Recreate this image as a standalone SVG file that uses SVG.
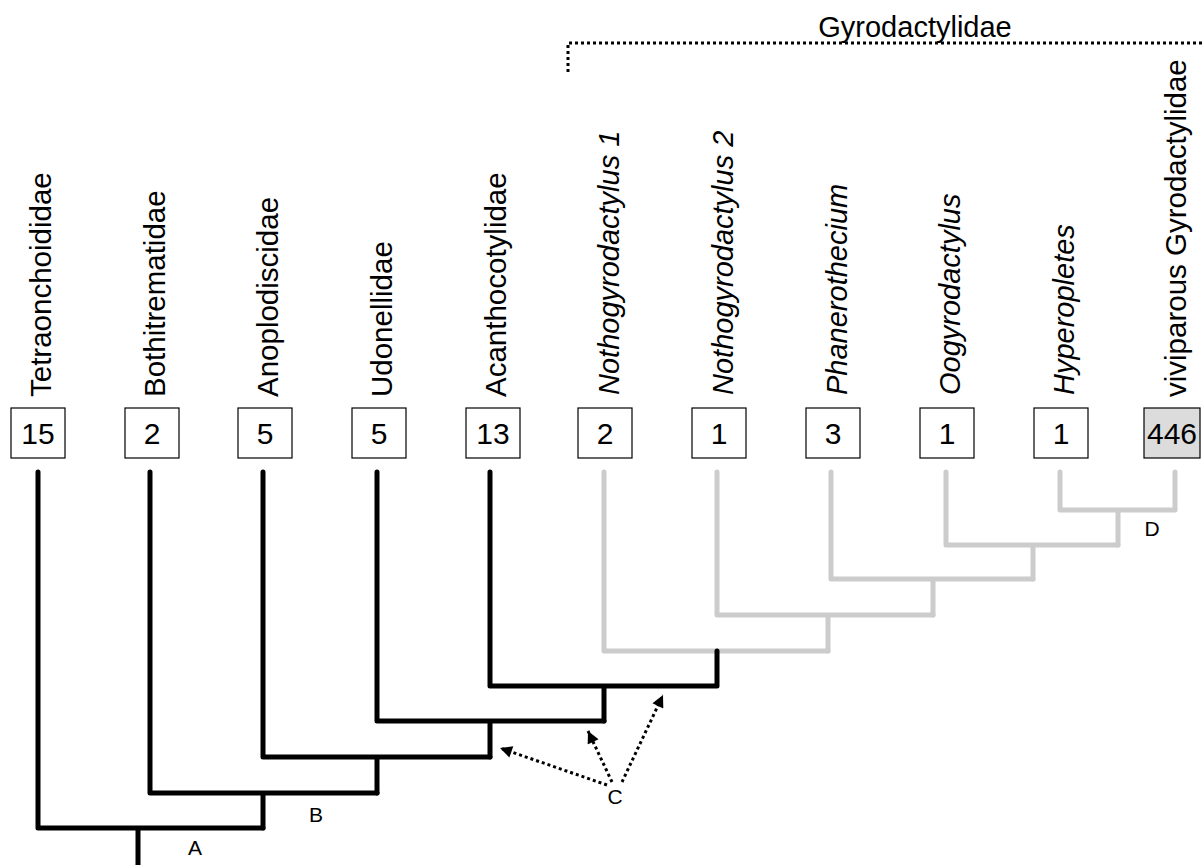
<svg xmlns="http://www.w3.org/2000/svg" width="1203" height="865" viewBox="0 0 1203 865">
<style>
text{font-family:"Liberation Sans",Arial,Helvetica,sans-serif;fill:#000}
.tip{font-size:29.5px}
.it{font-style:italic;font-size:29px}
.num{font-size:30px;text-anchor:middle}
.lab{font-size:21px;text-anchor:middle}
.box{fill:#fff;stroke:#000;stroke-width:1.2}
.box.g{fill:#dcdcdc}
.blk{fill:none;stroke:#000;stroke-width:5;stroke-linecap:round;stroke-linejoin:round}
.gry{fill:none;stroke:#cccccc;stroke-width:5;stroke-linecap:round;stroke-linejoin:round}
.dot{fill:none;stroke:#000;stroke-width:3;stroke-dasharray:3 3}
</style>
<defs>
<marker id="ah" viewBox="0 0 10 10" refX="10" refY="5" markerWidth="15" markerHeight="12" markerUnits="userSpaceOnUse" orient="auto">
<path d="M0,0 L10,5 L0,10 z" fill="#000"/>
</marker>
</defs>
<rect width="1203" height="865" fill="#fff"/>

<g id="gyro-bracket">
<text x="915" y="37" style="font-size:29px;text-anchor:middle">Gyrodactylidae</text>
<path class="dot" d="M568,72 V43 H1203"/>
</g>

<g id="n-tetraonchoididae"><text class="tip" transform="translate(51,397) rotate(-90)">Tetraonchoididae</text><rect class="box" x="11" y="408" width="54" height="50"/><text class="num" x="38" y="444">15</text></g>
<g id="n-bothritrematidae"><text class="tip" transform="translate(165,397) rotate(-90)">Bothitrematidae</text><rect class="box" x="125" y="408" width="54" height="50"/><text class="num" x="152" y="444">2</text></g>
<g id="n-anoplodiscidae"><text class="tip" transform="translate(278,397) rotate(-90)">Anoplodiscidae</text><rect class="box" x="238" y="408" width="54" height="50"/><text class="num" x="265" y="444">5</text></g>
<g id="n-udonellidae"><text class="tip" transform="translate(392,397) rotate(-90)">Udonellidae</text><rect class="box" x="352" y="408" width="54" height="50"/><text class="num" x="379" y="444">5</text></g>
<g id="n-acanthocotylidae"><text class="tip" transform="translate(506,397) rotate(-90)">Acanthocotylidae</text><rect class="box" x="466" y="408" width="54" height="50"/><text class="num" x="493" y="444">13</text></g>
<g id="n-notho1"><text class="tip it" transform="translate(619,395) rotate(-90)">Nothogyrodactylus 1</text><rect class="box" x="578" y="408" width="54" height="50"/><text class="num" x="605" y="444">2</text></g>
<g id="n-notho2"><text class="tip it" transform="translate(733,395) rotate(-90)">Nothogyrodactylus 2</text><rect class="box" x="692" y="408" width="54" height="50"/><text class="num" x="719" y="444">1</text></g>
<g id="n-phanerothecium"><text class="tip it" transform="translate(847,395) rotate(-90)">Phanerothecium</text><rect class="box" x="806" y="408" width="54" height="50"/><text class="num" x="833" y="444">3</text></g>
<g id="n-oogyrodactylus"><text class="tip it" transform="translate(960,395) rotate(-90)">Oogyrodactylus</text><rect class="box" x="920" y="408" width="54" height="50"/><text class="num" x="947" y="444">1</text></g>
<g id="n-hyperopletes"><text class="tip it" transform="translate(1074,395) rotate(-90)">Hyperopletes</text><rect class="box" x="1034" y="408" width="54" height="50"/><text class="num" x="1061" y="444">1</text></g>
<g id="n-viviparous"><text class="tip" transform="translate(1186,397) rotate(-90)">viviparous Gyrodactylidae</text><rect class="box g" x="1144" y="408" width="56" height="50"/><text class="num" x="1172" y="444">446</text></g>

<g id="connectors">
<path class="gry" d="M604,472 V651 H828"/>
<path class="gry" d="M717,472 V615 H933 M828,615 V651"/>
<path class="gry" d="M831,472 V579 H1033 M933,579 V615"/>
<path class="gry" d="M946,472 V545 H1118 M1033,545 V579"/>
<path class="gry" d="M1060,472 V510 H1175 V472 M1118,510 V545"/>
<path class="blk" d="M38,472 V828 H263 M138,828 V865"/>
<path class="blk" d="M150,472 V793 H377 M263,793 V828"/>
<path class="blk" d="M263,472 V757 H490 M377,757 V793"/>
<path class="blk" d="M377,472 V721 H604 M490,721 V757"/>
<path class="blk" d="M490,472 V686 H717 V651 M604,686 V721"/>
<path class="dot" d="M607,785 L500,748" marker-end="url(#ah)"/>
<path class="dot" d="M612,782 L588,731" marker-end="url(#ah)"/>
<path class="dot" d="M622,782 L663,695" marker-end="url(#ah)"/>
</g>

<g id="labels">
<text class="lab" x="195" y="855">A</text>
<text class="lab" x="316" y="822">B</text>
<text class="lab" x="615" y="804">C</text>
<text class="lab" x="1152" y="536">D</text>
</g>
</svg>
